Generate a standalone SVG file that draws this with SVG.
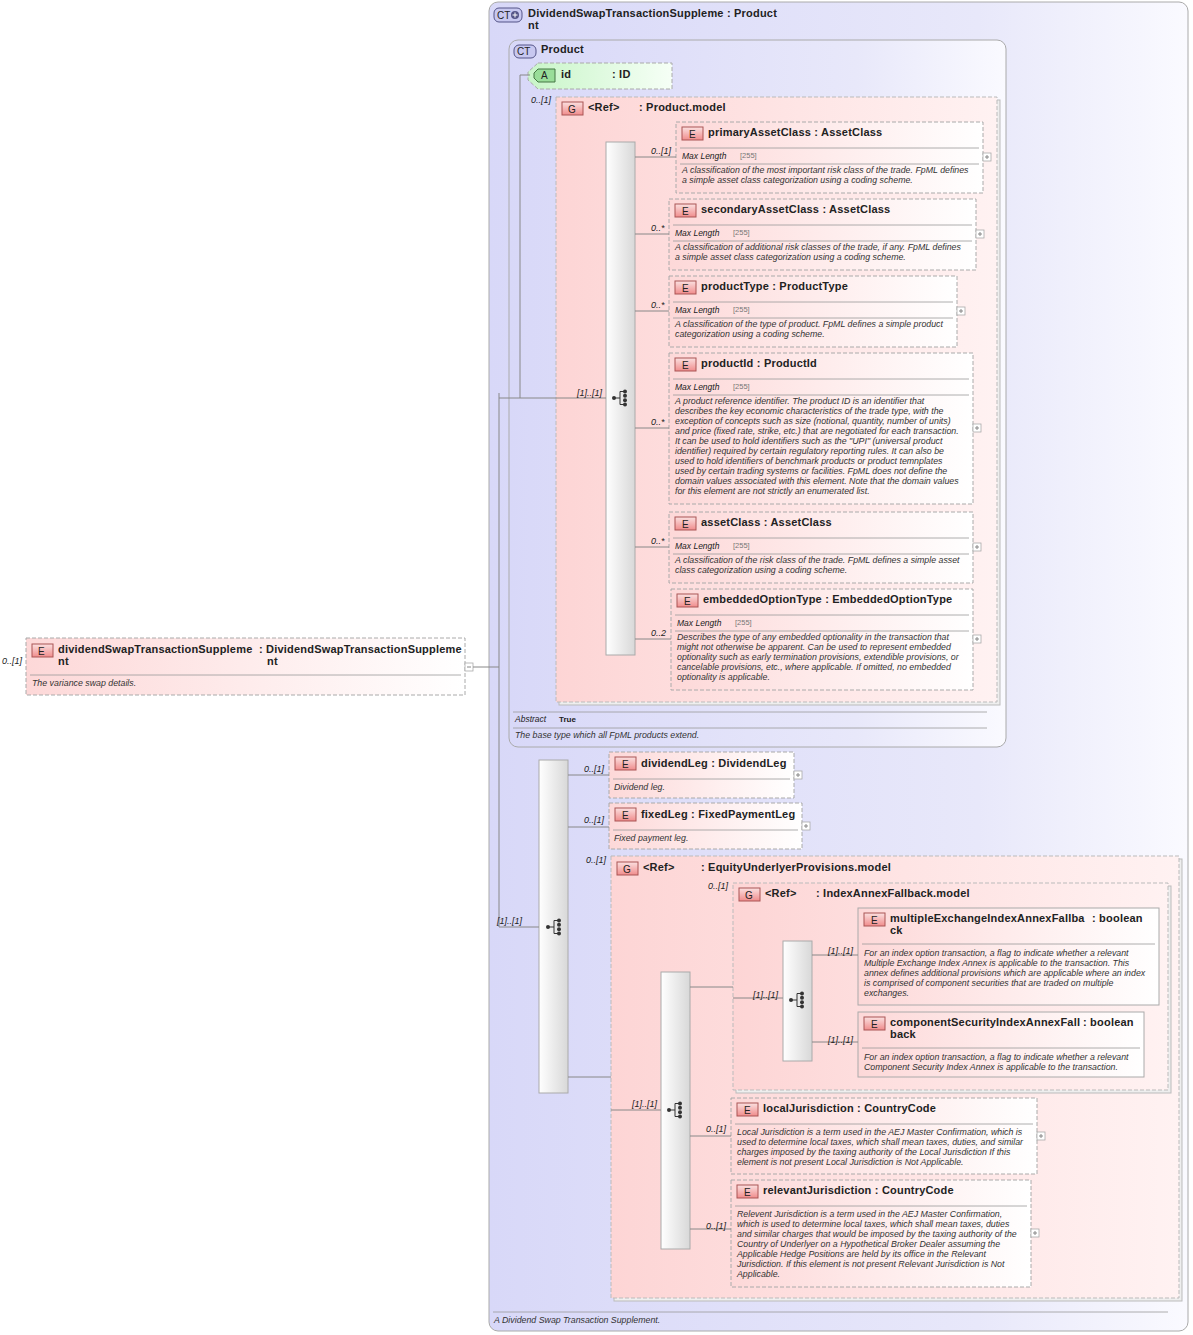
<svg xmlns="http://www.w3.org/2000/svg" width="1193" height="1335" viewBox="0 0 1193 1335">
<defs>
<linearGradient id="gct" x1="0" x2="1" y1="0" y2="0"><stop offset="0" stop-color="#d8d8f8"/><stop offset="0.7" stop-color="#e8e8fa"/><stop offset="1" stop-color="#fafaff"/></linearGradient>
<linearGradient id="gel" x1="0" x2="1" y1="0" y2="0"><stop offset="0" stop-color="#fdd8d8"/><stop offset="1" stop-color="#ffffff"/></linearGradient>
<linearGradient id="ggr" x1="0" x2="1" y1="0" y2="0"><stop offset="0" stop-color="#fdd5d5"/><stop offset="1" stop-color="#fff2f2"/></linearGradient>
<linearGradient id="gat" x1="0" x2="1" y1="0" y2="0"><stop offset="0" stop-color="#c8f5c8"/><stop offset="1" stop-color="#f6fff6"/></linearGradient>
<linearGradient id="gseq" x1="0" x2="1" y1="0" y2="0"><stop offset="0" stop-color="#ffffff"/><stop offset="1" stop-color="#d8d8d8"/></linearGradient>
<linearGradient id="gbE" x1="0" x2="0" y1="0" y2="1"><stop offset="0" stop-color="#fbe0e0"/><stop offset="1" stop-color="#f08c8c"/></linearGradient>
<g id="seqicon"><circle cx="-7" cy="0" r="2" fill="#333"/><line x1="-7" y1="0" x2="-1" y2="0" stroke="#333"/><line x1="-1" y1="-6.5" x2="-1" y2="6.5" stroke="#333"/><line x1="-1" y1="-6.5" x2="4" y2="-6.5" stroke="#333"/><line x1="-1" y1="6.5" x2="4" y2="6.5" stroke="#333"/><circle cx="4" cy="-6.5" r="2" fill="#333"/><circle cx="4" cy="-2.2" r="2" fill="#333"/><circle cx="4" cy="2.2" r="2" fill="#333"/><circle cx="4" cy="6.5" r="2" fill="#333"/></g>
<g id="plus"><rect x="0" y="0" width="8" height="8" fill="#fff" stroke="#aaa" stroke-width="0.8"/><line x1="2" y1="4" x2="6" y2="4" stroke="#888"/><line x1="4" y1="2" x2="4" y2="6" stroke="#888"/></g>
</defs>
<style>
text{font-family:"Liberation Sans",Arial,sans-serif;fill:#222}
.t{font-size:11px;font-weight:bold;letter-spacing:0.2px}
.d{font-size:8.8px;font-style:italic;fill:#333}
.c{font-size:9px;font-style:italic}
.ml{font-size:8.5px;font-style:italic}
.mv{font-size:7.5px;fill:#777}
.el{fill:url(#gel);stroke:#aaa;stroke-dasharray:4 2}
.els{fill:url(#gel);stroke:#aaa}
.gr{fill:url(#ggr);stroke:#bbb;stroke-dasharray:4 2}
.seq{fill:url(#gseq);stroke:#aaa}
.bE{fill:url(#gbE);stroke:#a55}
.sep{stroke:#999;stroke-width:0.8}
.cn{stroke:#888;fill:none}
.bt{font-size:10px;fill:#222}
</style>

<g id="outer">
<rect x="489" y="2" width="699" height="1329" rx="9" fill="url(#gct)" stroke="#aaa"/>
<rect x="494" y="8" width="28" height="14" rx="5" fill="#c8c8f0" stroke="#558"/><text x="497" y="19" class="bt">CT</text><circle cx="515" cy="15" r="4" fill="#558"/><path d="M512.5 15h5M515 12.5v5" stroke="#fff"/>
<text x="528" y="17" class="t">DividendSwapTransactionSuppleme : Product</text><text x="528" y="29" class="t">nt</text>
<line x1="493" y1="1312" x2="1168" y2="1312" class="sep"/>
<text x="494" y="1323" class="d">A Dividend Swap Transaction Supplement.</text>
</g>

<g id="product">
<rect x="509" y="40" width="497" height="707" rx="9" fill="url(#gct)" stroke="#aaa"/>
<rect x="514" y="45" width="22" height="13" rx="5" fill="#c8c8f0" stroke="#558"/><text x="517" y="55" class="bt">CT</text>
<text x="541" y="53" class="t">Product</text>
<line x1="513" y1="712" x2="987" y2="712" class="sep"/>
<text x="515" y="722" class="ml">Abstract</text><text x="559" y="722" style="font-size:8px;font-weight:bold">True</text>
<line x1="513" y1="728" x2="987" y2="728" class="sep"/>
<text x="515" y="738" class="d">The base type which all FpML products extend.</text>
</g>

<g id="attr-id">
<path d="M538 63H672V89H538L528 80V72Z" fill="url(#gat)" stroke="#aaa" stroke-dasharray="4 2"/>
<path d="M538 69H555V82H538L534 78V73Z" fill="#9d9" stroke="#474"/><text x="541" y="79" class="bt">A</text>
<text x="561" y="78" class="t">id</text><text x="612" y="78" class="t">: ID</text>
</g>

<g id="root">
<rect x="26" y="638" width="439" height="57" class="el"/>
<rect x="32" y="644" width="21" height="13" class="bE"/><text x="38" y="655" class="bt">E</text>
<text x="58" y="653" class="t">dividendSwapTransactionSuppleme</text><text x="259" y="653" class="t">: DividendSwapTransactionSuppleme</text>
<text x="58" y="665" class="t">nt</text><text x="267" y="665" class="t">nt</text>
<line x1="30" y1="675" x2="461" y2="675" class="sep"/>
<text x="32" y="686" class="d">The variance swap details.</text>
<rect x="465" y="663" width="8" height="8" fill="#fff" stroke="#aaa" stroke-width="0.8"/><line x1="467" y1="667" x2="471" y2="667" stroke="#888"/>
</g>

<g id="product-model">
<rect x="559" y="100" width="441" height="605" fill="#eee" stroke="#bbb"/>
<rect x="556" y="97" width="441" height="605" class="gr"/>
<rect x="562" y="102" width="21" height="13" class="bE"/><text x="568" y="113" class="bt">G</text>
<text x="588" y="111" class="t">&lt;Ref&gt;</text><text x="639" y="111" class="t">: Product.model</text>
<rect x="606" y="142" width="29" height="513" class="seq"/>
<use href="#seqicon" x="621" y="398"/>
</g>

<g id="primaryAssetClass">
<rect x="676" y="122" width="307" height="71" class="el"/>
<rect x="682" y="127" width="21" height="13" class="bE"/><text x="689" y="138" class="bt">E</text>
<text x="708" y="136" class="t">primaryAssetClass : AssetClass</text>
<line x1="680" y1="148" x2="979" y2="148" class="sep"/>
<text x="682" y="159" class="ml">Max Length</text><text x="740" y="158" class="mv">[255]</text>
<line x1="680" y1="164" x2="979" y2="164" class="sep"/>
<text x="682" y="173" class="d">A classification of the most important risk class of the trade. FpML defines</text>
<text x="682" y="183" class="d">a simple asset class categorization using a coding scheme.</text>
<use href="#plus" x="983" y="153"/>
</g>

<g id="secondaryAssetClass">
<rect x="669" y="199" width="307" height="71" class="el"/>
<rect x="675" y="204" width="21" height="13" class="bE"/><text x="682" y="215" class="bt">E</text>
<text x="701" y="213" class="t">secondaryAssetClass : AssetClass</text>
<line x1="673" y1="225" x2="972" y2="225" class="sep"/>
<text x="675" y="236" class="ml">Max Length</text><text x="733" y="235" class="mv">[255]</text>
<line x1="673" y1="241" x2="972" y2="241" class="sep"/>
<text x="675" y="250" class="d">A classification of additional risk classes of the trade, if any. FpML defines</text>
<text x="675" y="260" class="d">a simple asset class categorization using a coding scheme.</text>
<use href="#plus" x="976" y="230"/>
</g>

<g id="productType">
<rect x="669" y="276" width="288" height="71" class="el"/>
<rect x="675" y="281" width="21" height="13" class="bE"/><text x="682" y="292" class="bt">E</text>
<text x="701" y="290" class="t">productType : ProductType</text>
<line x1="673" y1="302" x2="953" y2="302" class="sep"/>
<text x="675" y="313" class="ml">Max Length</text><text x="733" y="312" class="mv">[255]</text>
<line x1="673" y1="318" x2="953" y2="318" class="sep"/>
<text x="675" y="327" class="d">A classification of the type of product. FpML defines a simple product</text>
<text x="675" y="337" class="d">categorization using a coding scheme.</text>
<use href="#plus" x="957" y="307"/>
</g>

<g id="productId">
<rect x="669" y="353" width="304" height="151" class="el"/>
<rect x="675" y="358" width="21" height="13" class="bE"/><text x="682" y="369" class="bt">E</text>
<text x="701" y="367" class="t">productId : ProductId</text>
<line x1="673" y1="379" x2="969" y2="379" class="sep"/>
<text x="675" y="390" class="ml">Max Length</text><text x="733" y="389" class="mv">[255]</text>
<line x1="673" y1="395" x2="969" y2="395" class="sep"/>
<text x="675" y="404" class="d">A product reference identifier. The product ID is an identifier that</text>
<text x="675" y="414" class="d">describes the key economic characteristics of the trade type, with the</text>
<text x="675" y="424" class="d">exception of concepts such as size (notional, quantity, number of units)</text>
<text x="675" y="434" class="d">and price (fixed rate, strike, etc.) that are negotiated for each transaction.</text>
<text x="675" y="444" class="d">It can be used to hold identifiers such as the "UPI" (universal product</text>
<text x="675" y="454" class="d">identifier) required by certain regulatory reporting rules. It can also be</text>
<text x="675" y="464" class="d">used to hold identifiers of benchmark products or product temnplates</text>
<text x="675" y="474" class="d">used by certain trading systems or facilities. FpML does not define the</text>
<text x="675" y="484" class="d">domain values associated with this element. Note that the domain values</text>
<text x="675" y="494" class="d">for this element are not strictly an enumerated list.</text>
<use href="#plus" x="973" y="424"/>
</g>

<g id="assetClass">
<rect x="669" y="512" width="304" height="71" class="el"/>
<rect x="675" y="517" width="21" height="13" class="bE"/><text x="682" y="528" class="bt">E</text>
<text x="701" y="526" class="t">assetClass : AssetClass</text>
<line x1="673" y1="538" x2="969" y2="538" class="sep"/>
<text x="675" y="549" class="ml">Max Length</text><text x="733" y="548" class="mv">[255]</text>
<line x1="673" y1="554" x2="969" y2="554" class="sep"/>
<text x="675" y="563" class="d">A classification of the risk class of the trade. FpML defines a simple asset</text>
<text x="675" y="573" class="d">class categorization using a coding scheme.</text>
<use href="#plus" x="973" y="543"/>
</g>

<g id="embeddedOptionType">
<rect x="671" y="589" width="302" height="101" class="el"/>
<rect x="677" y="594" width="21" height="13" class="bE"/><text x="684" y="605" class="bt">E</text>
<text x="703" y="603" class="t">embeddedOptionType : EmbeddedOptionType</text>
<line x1="675" y1="615" x2="969" y2="615" class="sep"/>
<text x="677" y="626" class="ml">Max Length</text><text x="735" y="625" class="mv">[255]</text>
<line x1="675" y1="631" x2="969" y2="631" class="sep"/>
<text x="677" y="640" class="d">Describes the type of any embedded optionality in the transaction that</text>
<text x="677" y="650" class="d">might not otherwise be apparent. Can be used to represent embedded</text>
<text x="677" y="660" class="d">optionality such as early termination provisions, extendible provisions, or</text>
<text x="677" y="670" class="d">cancelable provisions, etc., where applicable. If omitted, no embedded</text>
<text x="677" y="680" class="d">optionality is applicable.</text>
<use href="#plus" x="973" y="635"/>
</g>

<g id="seq2">
<rect x="539" y="760" width="29" height="333" class="seq"/>
<use href="#seqicon" x="555" y="927"/>
</g>

<g id="dividendLeg">
<rect x="609" y="752" width="185" height="46" class="el"/>
<rect x="615" y="757" width="21" height="13" class="bE"/><text x="622" y="768" class="bt">E</text>
<text x="641" y="767" class="t">dividendLeg : DividendLeg</text>
<line x1="613" y1="779" x2="790" y2="779" class="sep"/>
<text x="614" y="790" class="d">Dividend leg.</text>
<use href="#plus" x="794" y="771"/>
</g>

<g id="fixedLeg">
<rect x="609" y="803" width="193" height="46" class="el"/>
<rect x="615" y="808" width="21" height="13" class="bE"/><text x="622" y="819" class="bt">E</text>
<text x="641" y="818" class="t">fixedLeg : FixedPaymentLeg</text>
<line x1="613" y1="830" x2="798" y2="830" class="sep"/>
<text x="614" y="841" class="d">Fixed payment leg.</text>
<use href="#plus" x="802" y="822"/>
</g>

<g id="equityUnderlyer">
<rect x="614" y="859" width="568" height="442" fill="#eee" stroke="#bbb"/>
<rect x="611" y="856" width="568" height="442" class="gr"/>
<rect x="617" y="862" width="21" height="13" class="bE"/><text x="623" y="873" class="bt">G</text>
<text x="643" y="871" class="t">&lt;Ref&gt;</text><text x="701" y="871" class="t">: EquityUnderlyerProvisions.model</text>
<rect x="661" y="972" width="29" height="277" class="seq"/>
<use href="#seqicon" x="676" y="1110"/>
</g>

<g id="indexAnnex">
<rect x="736" y="886" width="435" height="207" fill="#eee" stroke="#bbb"/>
<rect x="733" y="883" width="435" height="207" class="gr"/>
<rect x="739" y="888" width="21" height="13" class="bE"/><text x="745" y="899" class="bt">G</text>
<text x="765" y="897" class="t">&lt;Ref&gt;</text><text x="816" y="897" class="t">: IndexAnnexFallback.model</text>
<rect x="783" y="941" width="29" height="120" class="seq"/>
<use href="#seqicon" x="798" y="1000"/>
</g>

<g id="multipleExchange">
<rect x="858" y="908" width="301" height="97" class="els"/>
<rect x="864" y="913" width="21" height="13" class="bE"/><text x="871" y="924" class="bt">E</text>
<text x="890" y="922" class="t">multipleExchangeIndexAnnexFallba</text><text x="1092" y="922" class="t">: boolean</text>
<text x="890" y="934" class="t">ck</text>
<line x1="862" y1="944" x2="1155" y2="944" class="sep"/>
<text x="864" y="956" class="d">For an index option transaction, a flag to indicate whether a relevant</text>
<text x="864" y="966" class="d">Multiple Exchange Index Annex is applicable to the transaction. This</text>
<text x="864" y="976" class="d">annex defines additional provisions which are applicable where an index</text>
<text x="864" y="986" class="d">is comprised of component securities that are traded on multiple</text>
<text x="864" y="996" class="d">exchanges.</text>
</g>

<g id="componentSecurity">
<rect x="858" y="1012" width="286" height="65" class="els"/>
<rect x="864" y="1017" width="21" height="13" class="bE"/><text x="871" y="1028" class="bt">E</text>
<text x="890" y="1026" class="t">componentSecurityIndexAnnexFall</text><text x="1083" y="1026" class="t">: boolean</text>
<text x="890" y="1038" class="t">back</text>
<line x1="862" y1="1048" x2="1140" y2="1048" class="sep"/>
<text x="864" y="1060" class="d">For an index option transaction, a flag to indicate whether a relevant</text>
<text x="864" y="1070" class="d">Component Security Index Annex is applicable to the transaction.</text>
</g>

<g id="localJurisdiction">
<rect x="731" y="1098" width="306" height="76" class="el"/>
<rect x="737" y="1103" width="21" height="13" class="bE"/><text x="744" y="1114" class="bt">E</text>
<text x="763" y="1112" class="t">localJurisdiction : CountryCode</text>
<line x1="735" y1="1124" x2="1033" y2="1124" class="sep"/>
<text x="737" y="1135" class="d">Local Jurisdiction is a term used in the AEJ Master Confirmation, which is</text>
<text x="737" y="1145" class="d">used to determine local taxes, which shall mean taxes, duties, and similar</text>
<text x="737" y="1155" class="d">charges imposed by the taxing authority of the Local Jurisdiction If this</text>
<text x="737" y="1165" class="d">element is not present Local Jurisdiction is Not Applicable.</text>
<use href="#plus" x="1037" y="1132"/>
</g>

<g id="relevantJurisdiction">
<rect x="731" y="1180" width="300" height="107" class="el"/>
<rect x="737" y="1185" width="21" height="13" class="bE"/><text x="744" y="1196" class="bt">E</text>
<text x="763" y="1194" class="t">relevantJurisdiction : CountryCode</text>
<line x1="735" y1="1206" x2="1027" y2="1206" class="sep"/>
<text x="737" y="1217" class="d">Relevent Jurisdiction is a term used in the AEJ Master Confirmation,</text>
<text x="737" y="1227" class="d">which is used to determine local taxes, which shall mean taxes, duties</text>
<text x="737" y="1237" class="d">and similar charges that would be imposed by the taxing authority of the</text>
<text x="737" y="1247" class="d">Country of Underlyer on a Hypothetical Broker Dealer assuming the</text>
<text x="737" y="1257" class="d">Applicable Hedge Positions are held by its office in the Relevant</text>
<text x="737" y="1267" class="d">Jurisdiction. If this element is not present Relevant Jurisdiction is Not</text>
<text x="737" y="1277" class="d">Applicable.</text>
<use href="#plus" x="1031" y="1229"/>
</g>

<g id="connectors">
<path class="cn" d="M473 667H499M499 393V927M499 398H606M520 75V398M520 75H530M635 157H676M635 234H669M635 311H669M635 428H669M635 547H669M635 639H671M499 927H539M568 775H609M568 827H609M568 1077H611M611 1110H661M690 987H733M733 998H783M812 955H858M812 1042H858M690 1136H731M690 1229H731"/>
</g>
<g id="cards">
<text x="531" y="103" class="c">0..[1]</text>
<text x="577" y="396" class="c">[1]..[1]</text>
<text x="651" y="154" class="c">0..[1]</text>
<text x="651" y="231" class="c">0..*</text>
<text x="651" y="308" class="c">0..*</text>
<text x="651" y="425" class="c">0..*</text>
<text x="651" y="544" class="c">0..*</text>
<text x="651" y="636" class="c">0..2</text>
<text x="497" y="924" class="c">[1]..[1]</text>
<text x="584" y="772" class="c">0..[1]</text>
<text x="584" y="823" class="c">0..[1]</text>
<text x="586" y="863" class="c">0..[1]</text>
<text x="632" y="1107" class="c">[1]..[1]</text>
<text x="708" y="889" class="c">0..[1]</text>
<text x="753" y="998" class="c">[1]..[1]</text>
<text x="828" y="954" class="c">[1]..[1]</text>
<text x="828" y="1043" class="c">[1]..[1]</text>
<text x="706" y="1132" class="c">0..[1]</text>
<text x="706" y="1229" class="c">0..[1]</text>
<text x="2" y="664" class="c">0..[1]</text>
</g>
</svg>
